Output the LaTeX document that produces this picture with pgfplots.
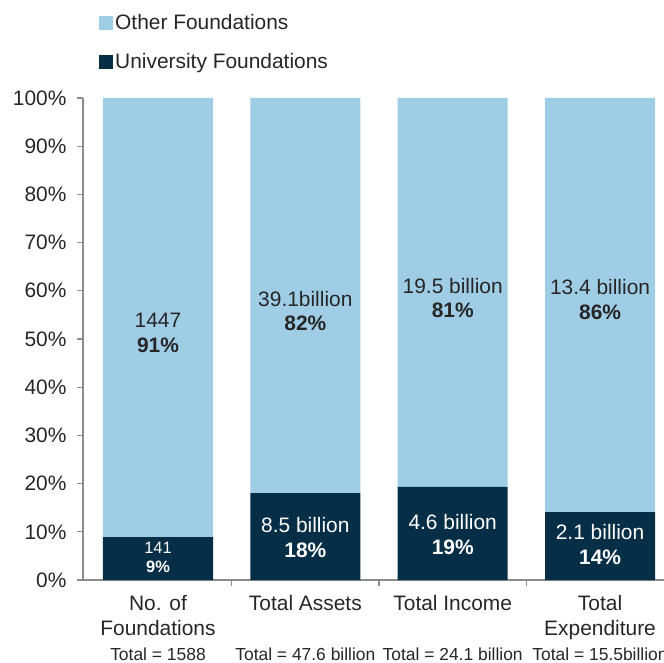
\documentclass[border=0pt]{standalone}
\usepackage{fontspec}
\setmainfont{Liberation Sans}
\usepackage{pgfplots}
\pgfplotsset{compat=1.18}
\definecolor{lightb}{HTML}{A0CDE6}
\definecolor{darkb}{HTML}{062E46}
\definecolor{axgray}{HTML}{8C8C8C}
\definecolor{txt}{HTML}{262626}
\newcommand\tot[1]{{\fontsize{17.5}{20}\selectfont #1}}
\newcommand\bigf{\fontsize{21}{25}\selectfont}
\begin{document}
\begin{tikzpicture}
\path[use as bounding box] (-83bp,-83bp) rectangle (581bp,580bp);
\begin{axis}[
  at={(0bp,0bp)}, anchor=south west, scale only axis,
  width=581bp, height=482bp,
  ybar stacked, bar width=0.747,
  xmin=-0.509, xmax=3.434, ymin=0, ymax=100,
  axis lines*=left,
  axis line style={axgray, line width=1.2bp},
  tick align=outside,
  xtick={0,1,2,3},
  xticklabels={{No. of\\Foundations\\\tot{Total = 1588}},
               {Total Assets\\\mbox{}\\\tot{Total = 47.6 billion}},
               {Total Income\\\mbox{}\\\tot{Total = 24.1 billion}},
               {Total\\Expenditure\\\tot{Total = 15.5billion}}},
  xticklabel style={align=center, anchor=north, text=txt, font=\bigf, yshift=-6bp},
  major x tick style={draw=none},
  minor xtick={0.5,1.5,2.5},
  minor tick length=6bp,
  major tick length=6bp,
  minor x tick style={axgray, line width=1.2bp},
  ytick={0,10,20,30,40,50,60,70,80,90,100},
  yticklabels={0\%,10\%,20\%,30\%,40\%,50\%,60\%,70\%,80\%,90\%,100\%},
  yticklabel style={text=txt, font=\bigf, xshift=-7bp},
  y tick style={axgray, line width=1.2bp},
  reverse legend,
  legend style={at={(0.0275,1.1775)}, anchor=north west, draw=none, fill=none,
    font=\bigf, text=txt, row sep=18bp, inner sep=0pt,
    /tikz/every even column/.append style={column sep=10bp}},
  legend cell align=left,
  legend image code/.code={\fill[#1] (0bp,-7bp) rectangle (14bp,7bp);},
]
\addplot[fill=darkb, draw=none] coordinates {(0,8.9) (1,18.0) (2,19.3) (3,14.1)};
\addlegendentry{University Foundations}
\addplot[fill=lightb, draw=none] coordinates {(0,91.1) (1,82.0) (2,80.7) (3,85.9)};
\addlegendentry{Other Foundations}
\coordinate (o1) at (axis cs:0,51.2);
\coordinate (o2) at (axis cs:1,55.8);
\coordinate (o3) at (axis cs:2,58.5);
\coordinate (o4) at (axis cs:3,58.1);
\coordinate (u1) at (axis cs:0,4.6);
\coordinate (u2) at (axis cs:1,8.9);
\coordinate (u3) at (axis cs:2,9.5);
\coordinate (u4) at (axis cs:3,7.3);
\end{axis}
\node[align=center, text=txt, font=\bigf] at (o1) {1447\\\textbf{91\%}};
\node[align=center, text=txt, font=\bigf] at (o2) {39.1billion\\\textbf{82\%}};
\node[align=center, text=txt, font=\bigf] at (o3) {19.5 billion\\\textbf{81\%}};
\node[align=center, text=txt, font=\bigf] at (o4) {13.4 billion\\\textbf{86\%}};
\node[align=center, text=white, font=\fontsize{16.5}{19}\selectfont] at (u1) {141\\\textbf{9\%}};
\node[align=center, text=white, font=\bigf] at (u2) {8.5 billion\\\textbf{18\%}};
\node[align=center, text=white, font=\bigf] at (u3) {4.6 billion\\\textbf{19\%}};
\node[align=center, text=white, font=\bigf] at (u4) {2.1 billion\\\textbf{14\%}};
\end{tikzpicture}
\end{document}
